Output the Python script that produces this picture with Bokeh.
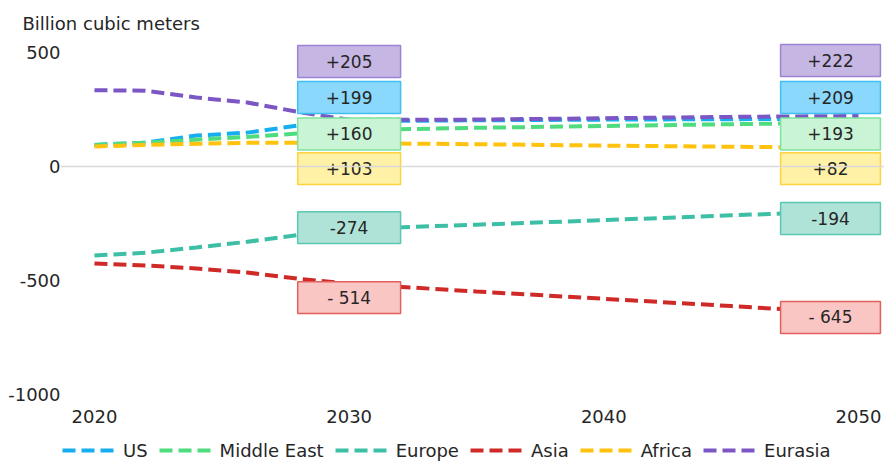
from bokeh.plotting import figure
from bokeh.layouts import column
from bokeh.models import Legend, LegendItem, Span, ColumnDataSource, FixedTicker
from bokeh.embed import file_html
from bokeh.resources import INLINE
from bokeh.core.properties import value

# ---------------- data ----------------
years = [2020, 2022, 2024, 2026, 2028, 2030, 2035, 2040, 2045, 2050]
us = [95, 105, 136, 149, 180, 199, 203, 206, 208, 209]
middle_east = [95, 105, 118, 130, 145, 160, 170, 178, 186, 193]
europe = [-390, -378, -355, -330, -300, -274, -255, -235, -214, -194]
asia = [-425, -434, -447, -465, -492, -514, -548, -580, -612, -645]
africa = [88, 95, 100, 104, 105, 103, 98, 92, 87, 82]
eurasia = [335, 333, 303, 281, 240, 205, 206, 212, 218, 222]

series_names = ["US", "Middle East", "Europe", "Asia", "Africa", "Eurasia"]
series_values = [us, middle_east, europe, asia, africa, eurasia]
line_colors = ["#17aef0", "#4fdc7f", "#3dbfa5", "#cf2a27", "#ffc20e", "#7b56c4"]

# value labels (text) at 2030 and 2050, in order Eurasia, US, Middle East, Africa, Europe, Asia
label_text_2030 = ["+205", "+199", "+160", "+103", "-274", "- 514"]
label_text_2050 = ["+222", "+209", "+193", "+82", "-194", "- 645"]
label_fill = ["#c6b6e3", "#8ad8fb", "#c9f4d5", "#fff1a6", "#afe3d8", "#f9c6c4"]
label_line = ["#9c83d3", "#3ec0f2", "#7fe39d", "#ffd23f", "#5cc7b2", "#e1605c"]

y_ticks = [-1000, -500, 0, 500]
y_tick_labels = ["-1000", "-500", "0", "500"]
x_ticks = [2020, 2030, 2040, 2050]

# ---------------- layout of annotation boxes (style, not data) ----------------
box_y_2030 = [461, 303, 143, -9, -268, -575]
box_y_2050 = [465, 303, 143, -9, -228, -662]
box_x_2030 = 2030.0
box_x_2050 = 2048.9
box_w_2030 = 4.04
box_w_2050 = 3.92
box_h = 140

FONT = "DejaVu Sans"
TXT = "#262626"
DASH = "13 6"
LW = 4

p = figure(width=884, height=432, output_backend="svg", toolbar_location=None,
           x_range=(2018.667, 2051.02), y_range=(-1035, 575),
           min_border_left=60, min_border_right=0, min_border_top=35,
           min_border_bottom=30)
p.outline_line_color = None
p.xgrid.visible = False
p.ygrid.visible = False

p.title.text = "Billion cubic meters"
p.title.text_font = FONT
p.title.text_font_size = "18px"
p.title.text_font_style = "normal"
p.title.text_color = TXT
p.title.align = "left"
p.title.offset = -38
p.title.standoff = 4

# zero line
p.add_layout(Span(location=0, dimension="width", line_color="#d9d9d9", line_width=1.5))

for name, vals, col in zip(series_names, series_values, line_colors):
    p.line(years, vals, line_color=col, line_width=LW, line_dash=DASH)

# boxes
src30 = ColumnDataSource(dict(x=[box_x_2030] * 6, y=box_y_2030, t=label_text_2030,
                              f=label_fill, l=label_line))
src50 = ColumnDataSource(dict(x=[box_x_2050] * 6, y=box_y_2050, t=label_text_2050,
                              f=label_fill, l=label_line))
p.rect(x="x", y="y", width=box_w_2030, height=box_h, fill_color="f", line_color="l",
       line_width=1.5, source=src30)
p.rect(x="x", y="y", width=box_w_2050, height=box_h, fill_color="f", line_color="l",
       line_width=1.5, source=src50)
for s in (src30, src50):
    p.text(x="x", y="y", text="t", source=s, text_align="center", text_baseline="middle",
           text_font=value(FONT), text_font_size="17px", text_color=TXT)

# axes
for ax in (p.xaxis[0], p.yaxis[0]):
    ax.axis_line_color = None
    ax.major_tick_line_color = None
    ax.minor_tick_line_color = None
    ax.major_tick_out = 0
    ax.major_tick_in = 0
    ax.minor_tick_out = 0
    ax.major_label_text_font = FONT
    ax.major_label_text_font_size = "18px"
    ax.major_label_text_color = TXT
p.xaxis.ticker = FixedTicker(ticks=x_ticks)
p.yaxis.ticker = FixedTicker(ticks=y_ticks)
p.yaxis.major_label_overrides = {t: s for t, s in zip(y_ticks, y_tick_labels)}
p.yaxis.major_label_standoff = 0
p.xaxis.major_label_standoff = 7

# ---------------- legend strip (its lines lie outside the strip's ranges) ----------------
lg = figure(width=884, height=30, output_backend="svg", toolbar_location=None,
            x_range=(0, 1), y_range=(0, 1), x_axis_type=None, y_axis_type=None,
            min_border_left=0, min_border_right=0, min_border_top=0, min_border_bottom=0)
lg.outline_line_color = None
lg.xgrid.visible = False
lg.ygrid.visible = False
items = []
for name, vals, col in zip(series_names, series_values, line_colors):
    r = lg.line(years, vals, line_color=col, line_width=LW, line_dash=DASH)
    items.append(LegendItem(label=name, renderers=[r]))

legend = Legend(items=items, orientation="horizontal", location=(2, 0))
legend.label_text_font = FONT
legend.label_text_font_size = "18px"
legend.label_text_color = TXT
legend.glyph_width = 52
legend.glyph_height = 24
legend.label_height = 24
legend.spacing = 11
legend.padding = 0
legend.margin = 0
legend.label_standoff = 9
legend.border_line_color = None
legend.background_fill_alpha = 0
lg.add_layout(legend, "center")

open("out.html", "w").write(file_html(column(p, lg, spacing=0), INLINE))
